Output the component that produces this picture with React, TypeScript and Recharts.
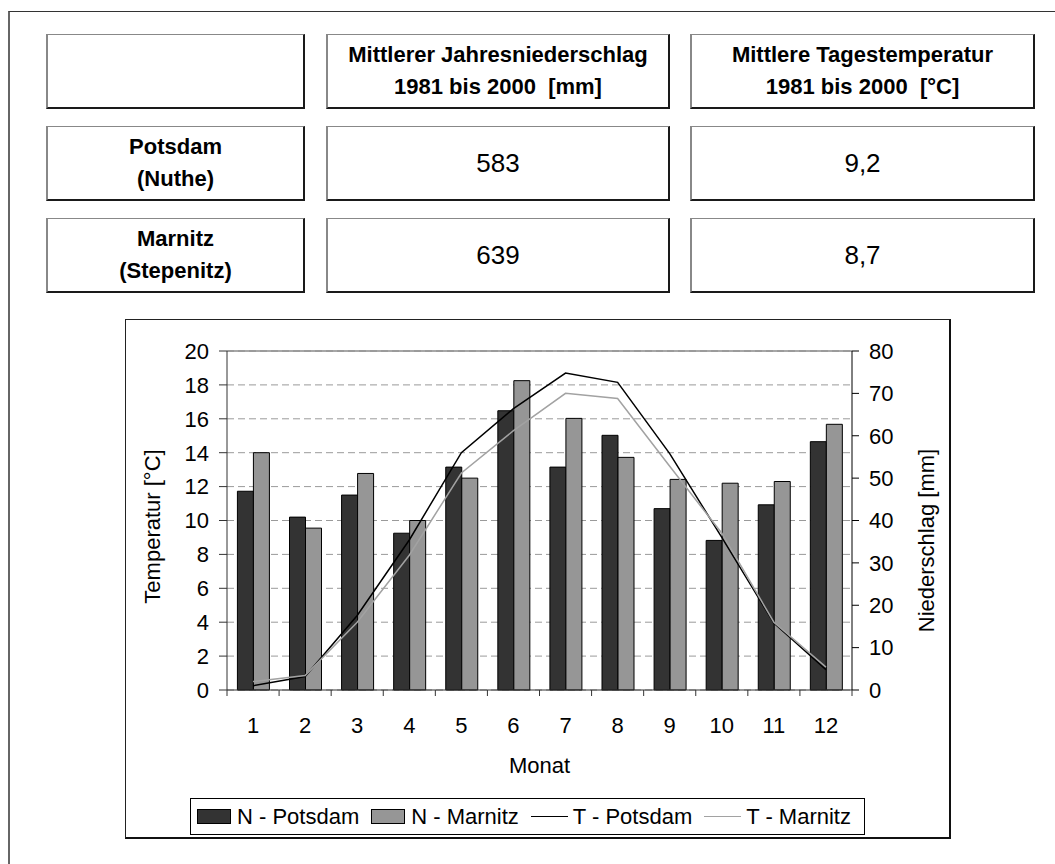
import React from 'react';
import {
  ComposedChart,
  Bar,
  Line,
  XAxis,
  YAxis,
  CartesianGrid,
  Legend,
  ReferenceLine
} from 'recharts';

// Monthly climate values (Potsdam / Marnitz)
const MONTHS = ['1', '2', '3', '4', '5', '6', '7', '8', '9', '10', '11', '12'];
const N_POTSDAM = [46.9, 40.8, 46.0, 37.0, 52.6, 65.9, 52.6, 60.1, 42.8, 35.3, 43.7, 58.6];
const N_MARNITZ = [56.0, 38.2, 51.1, 40.0, 50.0, 73.0, 64.1, 54.9, 49.7, 48.8, 49.2, 62.7];
const T_POTSDAM = [0.25, 0.8, 4.4, 8.85, 14.0, 16.6, 18.7, 18.15, 13.95, 9.0, 3.95, 1.2];
const T_MARNITZ = [0.5, 0.85, 4.0, 7.95, 12.8, 15.3, 17.5, 17.2, 13.2, 9.25, 4.0, 1.35];

const TEMP_TICKS = [0, 2, 4, 6, 8, 10, 12, 14, 16, 18, 20];
const RAIN_TICKS = [0, 10, 20, 30, 40, 50, 60, 70, 80];

// Summary table above the chart
const TABLE_HEAD = ['', 'Mittlerer Jahresniederschlag\n1981 bis 2000  [mm]', 'Mittlere Tagestemperatur\n1981 bis 2000  [°C]'];
const STATIONS = ['Potsdam\n(Nuthe)', 'Marnitz\n(Stepenitz)'];
const ANNUAL_RAIN = ['583', '639'];
const ANNUAL_TEMP = ['9,2', '8,7'];

const FONT = '"Liberation Sans", Arial, Helvetica, sans-serif';
const DARK = '#333333';
const GREY = '#969696';
const T_MARNITZ_COLOR = '#a2a2a2';

const LEGEND_ITEMS = [
  { label: 'N - Potsdam', kind: 'bar', color: DARK },
  { label: 'N - Marnitz', kind: 'bar', color: GREY },
  { label: 'T - Potsdam', kind: 'line', color: '#000000' },
  { label: 'T - Marnitz', kind: 'line', color: T_MARNITZ_COLOR }
];

const data = MONTHS.map((month, i) => ({
  month,
  nPotsdam: N_POTSDAM[i],
  nMarnitz: N_MARNITZ[i],
  tPotsdam: T_POTSDAM[i],
  tMarnitz: T_MARNITZ[i]
}));

const COL_X = [46, 326, 690];
const COL_W = [259, 344, 345];
const ROW_Y = [34, 126, 218];
const ROW_H = 75;

const Cell: React.FC<{ x: number; y: number; w: number; text: string; bold?: boolean; size?: number }> = ({ x, y, w, text, bold, size = 22 }) => (
  <div
    style={{
      position: 'absolute',
      left: x,
      top: y,
      width: w,
      height: ROW_H,
      boxSizing: 'border-box',
      borderTop: '1px solid #888',
      borderLeft: '2px solid #888',
      borderRight: '2px solid #1a1a1a',
      borderBottom: '2px solid #1a1a1a',
      display: 'flex',
      alignItems: 'center',
      justifyContent: 'center',
      textAlign: 'center',
      whiteSpace: 'pre',
      fontFamily: FONT,
      fontSize: size,
      fontWeight: bold ? 700 : 400,
      lineHeight: '32px',
      color: '#000'
    }}
  >
    {text}
  </div>
);

const MonthTick = (props: any) => {
  const { x, y, payload, index, width } = props;
  const half = payload && payload.offset ? payload.offset : (width || 625) / MONTHS.length / 2;
  return (
    <g>
      <line x1={x - half} x2={x - half} y1={y} y2={y + 6} stroke={DARK} />
      {index === MONTHS.length - 1 && <line x1={x + half} x2={x + half} y1={y} y2={y + 6} stroke={DARK} />}
      <text x={x} y={y + 35} textAnchor="middle" dominantBaseline="central" fontSize={22} fontFamily={FONT} fill="#000">
        {payload.value}
      </text>
    </g>
  );
};

const axisTitle = (text: string, dx: number, dy: number, rotate: boolean) => (p: any) => {
  const vb = p.viewBox || {};
  const cx = rotate ? (vb.x || 0) + dx : (vb.x || 0) + (vb.width || 0) / 2;
  const cy = rotate ? (vb.y || 0) + (vb.height || 0) / 2 + dy : (vb.y || 0) + dy;
  return (
    <text
      x={cx}
      y={cy}
      transform={rotate ? `rotate(-90 ${cx} ${cy})` : undefined}
      textAnchor="middle"
      dominantBaseline="central"
      fontSize={22}
      fontFamily={FONT}
      fill="#000"
    >
      {text}
    </text>
  );
};

const LegendBox = () => (
  <div
    style={{
      height: 37,
      boxSizing: 'border-box',
      border: '1px solid #000',
      background: '#fff',
      display: 'flex',
      alignItems: 'center',
      paddingLeft: 6,
      fontFamily: FONT,
      fontSize: 22,
      color: '#000',
      whiteSpace: 'nowrap'
    }}
  >
    {LEGEND_ITEMS.map(item => (
      <div key={item.label} style={{ display: 'flex', alignItems: 'center', marginRight: 12 }}>
        {item.kind === 'bar' ? (
          <span style={{ display: 'inline-block', width: 34, height: 15, boxSizing: 'border-box', background: item.color, border: '1px solid #000', marginRight: 6 }} />
        ) : (
          <span style={{ display: 'inline-block', width: 37, height: 0, borderTop: `1.5px solid ${item.color}`, marginRight: 5 }} />
        )}
        <span>{item.label}</span>
      </div>
    ))}
  </div>
);

const App: React.FC = () => {
  return (
    <div style={{ position: 'fixed', inset: 0, overflow: 'hidden', background: '#fff' }}>
      {/* outer frame, only top and left edges are inside the page */}
      <div style={{ position: 'absolute', left: 8, top: 11, width: 2000, height: 2000, borderTop: '1px solid #333', borderLeft: '2px solid #666' }} />

      {TABLE_HEAD.map((t, c) => (
        <Cell key={`h-${c}`} x={COL_X[c]} y={ROW_Y[0]} w={COL_W[c]} text={t} bold />
      ))}
      {STATIONS.map((s, r) => (
        <React.Fragment key={s}>
          <Cell x={COL_X[0]} y={ROW_Y[r + 1]} w={COL_W[0]} text={s} bold />
          <Cell x={COL_X[1]} y={ROW_Y[r + 1]} w={COL_W[1]} text={ANNUAL_RAIN[r]} size={26} />
          <Cell x={COL_X[2]} y={ROW_Y[r + 1]} w={COL_W[2]} text={ANNUAL_TEMP[r]} size={26} />
        </React.Fragment>
      ))}

      <div style={{ position: 'absolute', left: 125, top: 319, width: 826, height: 520 }}>
        <ComposedChart
          width={826}
          height={520}
          data={data}
          margin={{ top: 32, right: 19, bottom: 69, left: 22 }}
          barCategoryGap="20%"
          barGap={0}
        >
          <CartesianGrid yAxisId="t" vertical={false} stroke="#9a9a9a" strokeDasharray="7 4" />
          <XAxis
            dataKey="month"
            height={80}
            interval={0}
            axisLine={{ stroke: DARK }}
            tickLine={false}
            tickSize={0}
            tickMargin={0}
            tick={<MonthTick />}
            label={axisTitle('Monat', 0, 75, false)}
          />
          <YAxis
            yAxisId="t"
            orientation="left"
            width={80}
            domain={[0, 20]}
            ticks={TEMP_TICKS}
            interval={0}
            axisLine={{ stroke: DARK }}
            tickLine={{ stroke: DARK }}
            tickSize={8}
            tickMargin={10}
            tick={{ fontSize: 22, fill: '#000', fontFamily: FONT }}
            label={axisTitle('Temperatur [°C]', 5, 6, true)}
          />
          <YAxis
            yAxisId="n"
            orientation="right"
            width={80}
            domain={[0, 80]}
            ticks={RAIN_TICKS}
            interval={0}
            axisLine={{ stroke: '#000' }}
            tickLine={{ stroke: '#000' }}
            tickSize={7}
            tickMargin={10}
            tick={{ fontSize: 22, fill: '#000', fontFamily: FONT }}
            label={axisTitle('Niederschlag [mm]', 74, 20, true)}
          />
          <ReferenceLine yAxisId="t" y={20} stroke="#8a8a8a" strokeWidth={1.5} />
          <Bar yAxisId="n" dataKey="nPotsdam" name="N - Potsdam" fill={DARK} stroke="#000" strokeWidth={1} isAnimationActive={false} />
          <Bar yAxisId="n" dataKey="nMarnitz" name="N - Marnitz" fill={GREY} stroke="#000" strokeWidth={1} isAnimationActive={false} />
          <Line yAxisId="t" type="linear" dataKey="tPotsdam" name="T - Potsdam" stroke="#000" strokeWidth={1.5} dot={false} activeDot={false} isAnimationActive={false} />
          <Line yAxisId="t" type="linear" dataKey="tMarnitz" name="T - Marnitz" stroke={T_MARNITZ_COLOR} strokeWidth={1.5} dot={false} activeDot={false} isAnimationActive={false} />
          <Legend
            layout="horizontal"
            verticalAlign="middle"
            align="center"
            content={<LegendBox />}
            wrapperStyle={{ left: 65, top: 479, width: 675, height: 37 }}
          />
        </ComposedChart>
        <div
          style={{
            position: 'absolute',
            left: 0,
            top: 0,
            width: 826,
            height: 520,
            boxSizing: 'border-box',
            borderTop: '1px solid #222',
            borderLeft: '1px solid #222',
            borderRight: '2px solid #111',
            borderBottom: '2px solid #111',
            pointerEvents: 'none'
          }}
        />
      </div>
    </div>
  );
};

export default App;
